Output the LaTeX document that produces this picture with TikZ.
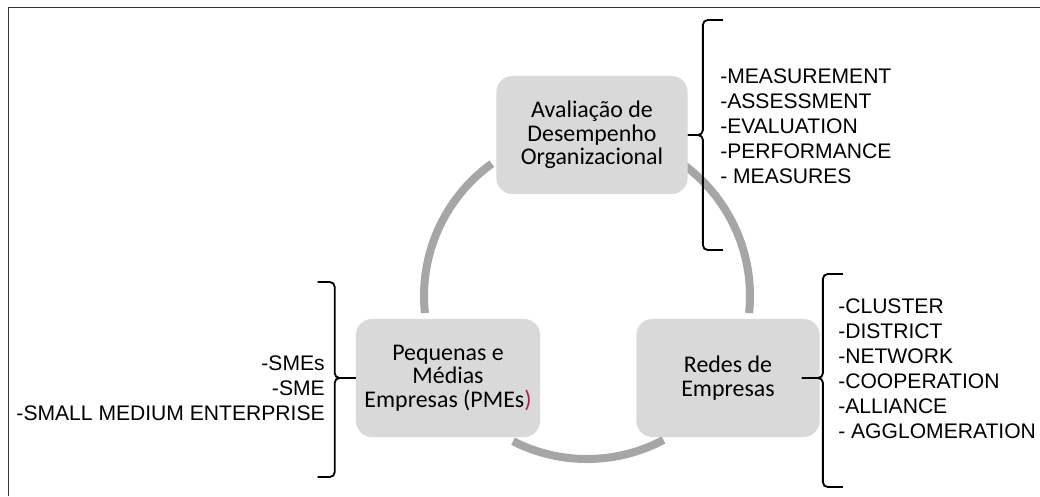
\documentclass[tikz,border=0pt]{standalone}
\usepackage{fontspec}
\setmainfont{Liberation Sans}
\newfontfamily\boxfont{Carlito}
\usetikzlibrary{positioning}

\definecolor{boxgray}{HTML}{D9D9D9}
\definecolor{ringgray}{HTML}{A6A6A6}
\definecolor{parred}{HTML}{A8243A}

\begin{document}
\begin{tikzpicture}[x=0.025cm,y=0.025cm,
	area/.style={fill=boxgray, rounded corners=0.4cm, minimum height=2.95cm, align=center, font=\boxfont\fontsize{17}{16.8}\selectfont},
	terms/.style={font=\fontsize{15}{17.8}\selectfont, inner sep=0pt},
	ring/.style={draw=ringgray, line width=5.7pt},
	bracket/.style={draw, line width=1.3pt, rounded corners=0.12cm}]
	\useasboundingbox (0,0) rectangle (1040,-496);
	\draw[line width=0.7pt, black!80] (8,-496) -- (8,-7) -- (1040,-7);
	% ring behind the boxes
	\coordinate (c) at (587,-296);
	\draw[ring] (c) ++(125.7:163) arc (125.7:186:163);
	\draw[ring] (c) ++(53.3:163) arc (53.3:-6:163);
	\draw[ring] (c) ++(243:163) arc (243:298:163);
	% boxes
	\node[area, minimum width=4.78cm] (aval) at (592,-135) {Avaliação de\\Desempenho\\Organizacional};
	\node[area, minimum width=4.6cm] (pme) at (448,-378) {Pequenas e\\Médias\\Empresas (PMEs\textcolor{parred}{)}};
	\node[area, minimum width=4.58cm] (redes) at (728,-378) {Redes de\\Empresas};
	% keywords
	\node[terms, anchor=west, align=left] (avalterms) at (720,-126) {-MEASUREMENT\\-ASSESSMENT\\-EVALUATION\\-PERFORMANCE\\- MEASURES};
	\node[terms, anchor=east, align=right] (pmeterms) at (325,-388) {-SMEs\\-SME\\-SMALL MEDIUM ENTERPRISE};
	\node[terms, anchor=west, align=left] (redesterms) at (838,-369) {-CLUSTER\\-DISTRICT\\-NETWORK\\-COOPERATION\\-ALLIANCE\\- AGGLOMERATION};
	% braces
	\draw[bracket] (aval.east) -| ++(15,115) -- ++(20,0);
	\draw[bracket] (aval.east) -| ++(15,-115) -- ++(20,0);
	\draw[bracket] (pme.west) -| ++(-21,96) -- ++(-17,0);
	\draw[bracket] (pme.west) -| ++(-21,-99) -- ++(-17,0);
	\draw[bracket] (redes.east) ++(-18,0) -| ++(21,104) -- ++(20,0);
	\draw[bracket] (redes.east) ++(-18,0) -| ++(21,-109) -- ++(20,0);
\end{tikzpicture}
\end{document}
